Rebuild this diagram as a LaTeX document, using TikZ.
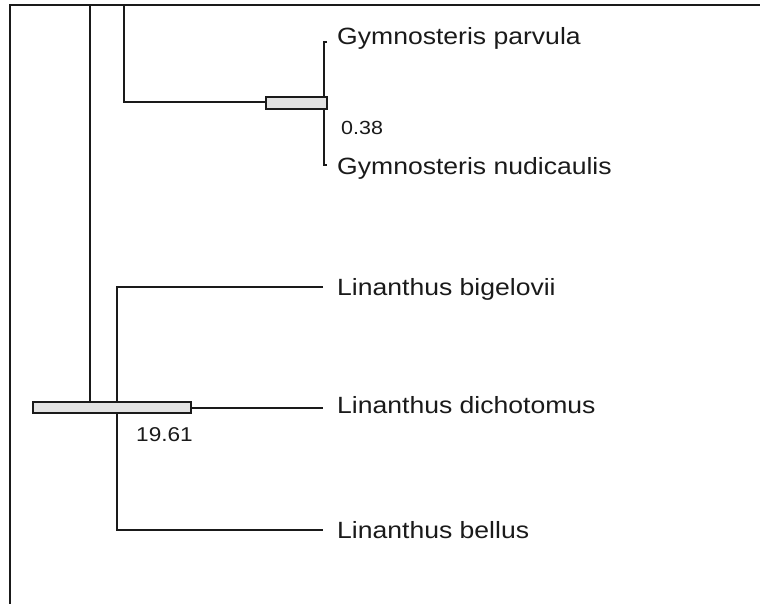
\documentclass[tikz,border=0pt]{standalone}
\usepackage{fontspec}
\newfontfamily\labfont[FakeStretch=1.13]{Liberation Sans}
\definecolor{ink}{HTML}{1A1A1A}
\definecolor{barfill}{HTML}{E2E2E2}
\begin{document}
\begin{tikzpicture}[x=1pt,y=-1pt,
  branch/.style={draw=ink,line width=1.5pt},
  frameline/.style={draw=ink,line width=2pt},
  barbox/.style={draw=ink,fill=barfill,line width=1.5pt,rectangle,inner sep=0pt},
  taxon/.style={anchor=base west,inner sep=0pt,text=ink,font=\labfont\fontsize{23.5}{27}\selectfont},
  age/.style={anchor=base west,inner sep=0pt,text=ink,font=\labfont\fontsize{19}{22}\selectfont}]
\useasboundingbox (0,0) rectangle (760,604);
% frame
\coordinate (ftl) at (10,5);
\coordinate (ftr) at (760,5);
\coordinate (fbl) at (10,604);
\draw[frameline] (fbl) -- (ftl) -- (ftr);
% coordinates
\coordinate (rtop) at (90,5);
\coordinate (gtop) at (124,5);
\coordinate (gup) at (324,42);
\coordinate (gupt) at (327,42);
\coordinate (gdn) at (324,165);
\coordinate (gdnt) at (327,165);
\coordinate (lup) at (117,287);
\coordinate (ldn) at (117,530);
\coordinate (lbig) at (323,287);
\coordinate (ldic) at (323,408);
\coordinate (lbel) at (323,530);
% branches
\draw[branch] (gtop) |- (266,102);
\draw[branch] (gupt) -- (gup) -- (gdn) -- (gdnt);
\draw[branch] (lbig) -- (lup) -- (ldn) -- (lbel);
\draw[branch] (rtop) -- (90,402);
\draw[branch] (190,408) -- (ldic);
% bars
\node[barbox,minimum width=61pt,minimum height=12pt] (gbar) at (296.5,103) {};
\node[barbox,minimum width=158pt,minimum height=11pt] (rbar) at (112,407.5) {};
% labels
\node[taxon] (tpar) at (337,45) {Gymnosteris parvula};
\node[taxon] (tnud) at (337,175) {Gymnosteris nudicaulis};
\node[taxon] (tbig) at (337,295) {Linanthus bigelovii};
\node[taxon] (tdic) at (337,413) {Linanthus dichotomus};
\node[taxon] (tbel) at (337,538) {Linanthus bellus};
\node[age] (agg) at (341,135) {0.38};
\node[age,font=\labfont\fontsize{20}{23}\selectfont] (agr) at (136,441) {19.61};
\end{tikzpicture}
\end{document}
